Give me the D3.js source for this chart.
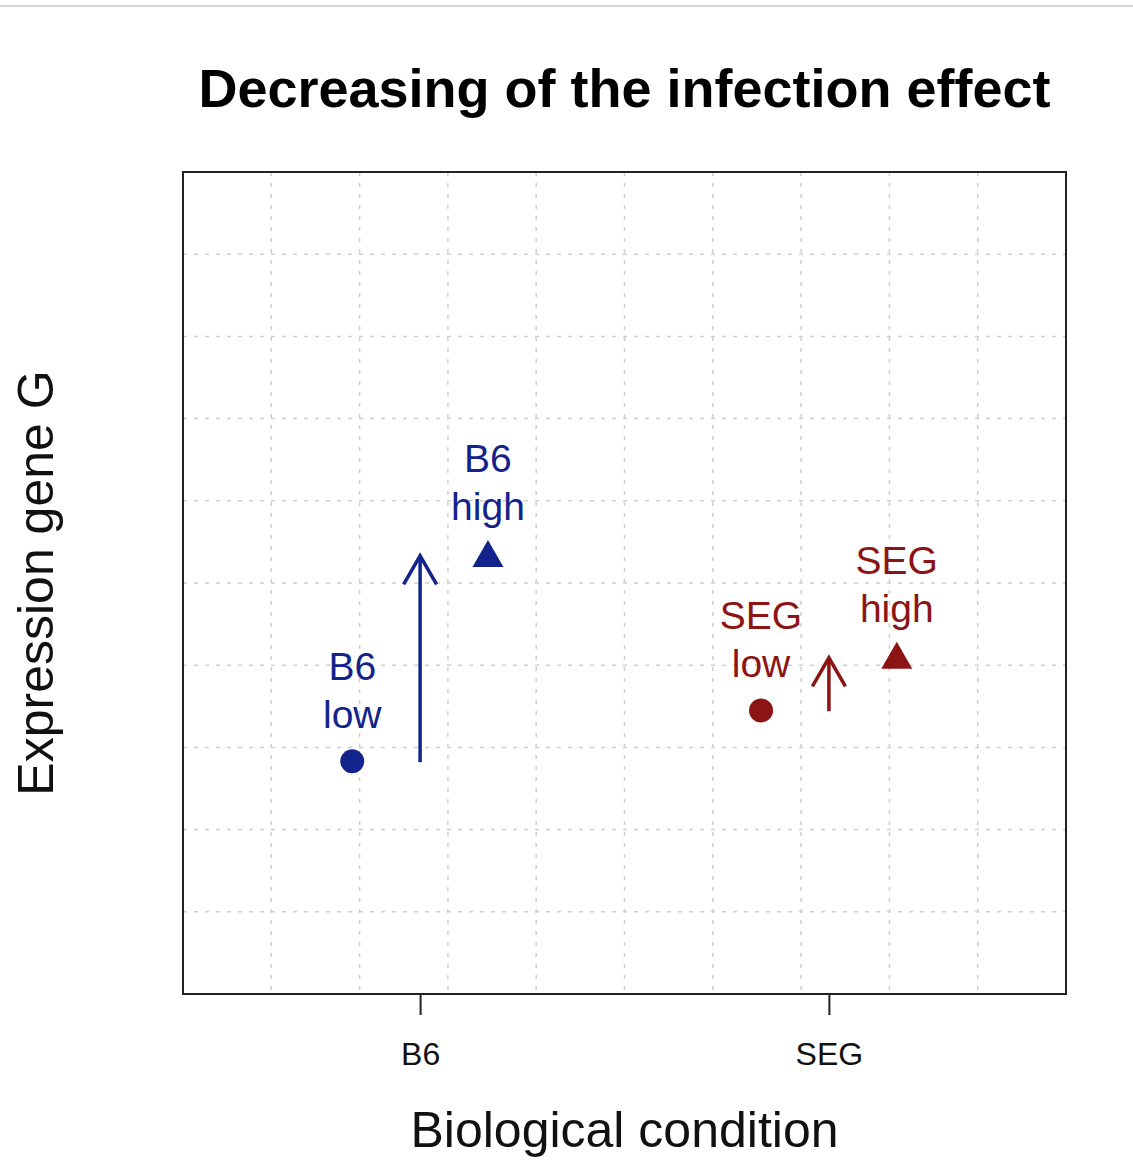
<!DOCTYPE html>
<html>
<head>
<meta charset="utf-8">
<script src="https://d3js.org/d3.v7.min.js"></script>
<style>
  body { margin: 0; background: #fff; }
  text { font-family: "Liberation Sans", Arial, Helvetica, sans-serif; }
</style>
</head>
<body>
<script>
// data
var conditions = ["B6", "SEG"];
var conditionPos = [1, 2];
var condColors = ["#12238c", "#8c1414"];

var pointCond = [0, 0, 1, 1];
var pointLevel = ["low", "high", "low", "high"];
var pointX = [0.834, 1.166, 1.834, 2.166];
var pointY = [2.83, 5.36, 3.45, 4.12];

var arrowCond = [0, 1];
var arrowFrom = [2.82, 3.44];
var arrowTo = [5.33, 4.09];

var title = "Decreasing of the infection effect";
var xTitle = "Biological condition";
var yTitle = "Expression gene G";

var W = 1133, H = 1160;
var pL = 183, pR = 1066, pT = 172, pB = 994;

var svg = d3.select("body").append("svg")
  .attr("width", W).attr("height", H);

// thin line at the top of the window
svg.append("line")
  .attr("x1", 0).attr("x2", W).attr("y1", 6).attr("y2", 6)
  .attr("stroke", "#c8c8c8").attr("stroke-width", 1.5);

var x = d3.scaleLinear().domain([0.42, 2.58]).range([pL, pR]);
var y = d3.scaleLinear().domain([0, 10]).range([pB, pT]);

// grid, 10 cells each way
var gx = d3.range(1, 10).map(function(k) { return x.domain()[0] + k * (x.domain()[1] - x.domain()[0]) / 10; });
var gy = d3.range(1, 10).map(function(k) { return y.domain()[0] + k * (y.domain()[1] - y.domain()[0]) / 10; });

var grid = svg.append("g")
  .attr("stroke", "#cfcfcf").attr("stroke-width", 1.5)
  .attr("stroke-dasharray", "4,7");
grid.selectAll(".gv").data(gx).enter().append("line")
  .attr("x1", function(d) { return x(d); }).attr("x2", function(d) { return x(d); })
  .attr("y1", pT).attr("y2", pB);
grid.selectAll(".gh").data(gy).enter().append("line")
  .attr("y1", function(d) { return y(d); }).attr("y2", function(d) { return y(d); })
  .attr("x1", pL).attr("x2", pR);

// frame
svg.append("rect")
  .attr("x", pL).attr("y", pT)
  .attr("width", pR - pL).attr("height", pB - pT)
  .attr("fill", "none").attr("stroke", "#222").attr("stroke-width", 2);

// x axis
var xAxis = d3.axisBottom(x)
  .tickValues(conditionPos)
  .tickFormat(function(d, i) { return conditions[i]; })
  .tickSizeOuter(0)
  .tickSize(21)
  .tickPadding(27);
var ax = svg.append("g").attr("transform", "translate(0," + pB + ")").call(xAxis);
ax.select(".domain").remove();
ax.selectAll(".tick line").attr("stroke", "#222").attr("stroke-width", 2);
ax.selectAll(".tick text")
  .attr("font-size", 32).attr("fill", "#111")
  .style("font-family", '"Liberation Sans", Arial, sans-serif');

// arrows
var arrows = svg.append("g");
arrowCond.forEach(function(c, i) {
  var ax0 = x(conditionPos[c]);
  var y0 = y(arrowFrom[i]), y1 = y(arrowTo[i]);
  var col = condColors[c];
  arrows.append("line")
    .attr("x1", ax0).attr("x2", ax0).attr("y1", y0).attr("y2", y1)
    .attr("stroke", col).attr("stroke-width", 3.5);
  arrows.append("path")
    .attr("d", "M" + (ax0 - 16.5) + "," + (y1 + 28.6) + "L" + ax0 + "," + y1 + "L" + (ax0 + 16.5) + "," + (y1 + 28.6))
    .attr("fill", "none").attr("stroke", col).attr("stroke-width", 3.5)
    .attr("stroke-linejoin", "miter");
});

// points and their labels
var pts = svg.append("g");
pointX.forEach(function(px, i) {
  var cx = x(px), cy = y(pointY[i]);
  var col = condColors[pointCond[i]];
  if (pointLevel[i] === "low") {
    pts.append("circle").attr("cx", cx).attr("cy", cy).attr("r", 12).attr("fill", col);
  } else {
    pts.append("path")
      .attr("d", "M" + cx + "," + (cy - 13.5) + "L" + (cx + 15.5) + "," + (cy + 13.5) + "L" + (cx - 15.5) + "," + (cy + 13.5) + "Z")
      .attr("fill", col);
  }
  var t = pts.append("text")
    .attr("text-anchor", "middle")
    .attr("font-size", 39)
    .attr("fill", col);
  t.append("tspan").attr("x", cx).attr("y", cy - 81).text(conditions[pointCond[i]]);
  t.append("tspan").attr("x", cx).attr("y", cy - 33).text(pointLevel[i]);
});

// titles
svg.append("text")
  .attr("x", (pL + pR) / 2).attr("y", 107)
  .attr("text-anchor", "middle")
  .attr("font-size", 54).attr("font-weight", "bold")
  .attr("fill", "#000")
  .text(title);

svg.append("text")
  .attr("x", (pL + pR) / 2).attr("y", 1147)
  .attr("text-anchor", "middle")
  .attr("font-size", 50)
  .attr("fill", "#111")
  .text(xTitle);

svg.append("text")
  .attr("transform", "translate(53," + ((pT + pB) / 2) + ") rotate(-90)")
  .attr("text-anchor", "middle")
  .attr("font-size", 50)
  .attr("fill", "#111")
  .text(yTitle);
</script>
</body>
</html>
